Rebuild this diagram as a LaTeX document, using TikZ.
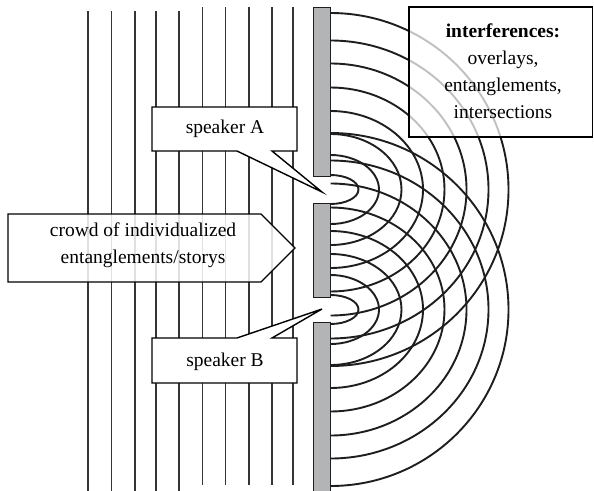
\documentclass[tikz,border=0pt]{standalone}
\usepackage{fontspec}
\setmainfont{Liberation Serif}
\definecolor{wallgray}{RGB}{178,180,181}
\definecolor{ink}{RGB}{30,30,32}
\begin{document}
\begin{tikzpicture}[x=1pt,y=-1pt,
  wave/.style={line width=1.9pt, draw=ink},
  vline/.style={line width=1.5pt, draw=ink!90},
  wall/.style={fill=wallgray, draw=ink, line width=1pt},
  callout/.style={draw=black, line width=1.4pt, fill=white, line join=miter},
  lbl/.style={font=\fontsize{19.5}{26.7}\selectfont, align=center, inner sep=0pt}]
\useasboundingbox (0,0) rectangle (594,490);
\fill[white] (0,0) rectangle (594,490);
% incoming plane waves
\foreach \x in {88,111.5,135,156,179} \draw[vline] (\x,11) -- (\x,491);
\foreach \x in {202.7,225.7,249,272,293} \draw[vline] (\x,7) -- (\x,485);
% slit centres
\coordinate (A) at (330.5,189.5);
\coordinate (B) at (330.5,309.5);
% circular waves
\begin{scope}
\clip (330.5,0) rectangle (594,490);
\foreach \a/\b in {28/14.5,48.5/34.5,71/55.5,92.5/78.5,114/102,136/126,158/149,178/176.5} {
  \draw[wave] (A) ellipse [x radius=\a pt, y radius=\b pt];
  \draw[wave] (B) ellipse [x radius=\a pt, y radius=\b pt];
}
\end{scope}
% barrier
\draw[wall] (313.5,7.5) rectangle (330.5,176);
\draw[wall] (313.5,203) rectangle (330.5,297);
\draw[wall] (313.5,322) rectangle (330.5,495);
% interference box
\draw[callout, fill opacity=0.72] (409,7) rectangle (592.5,137);
\node[lbl, anchor=base] (intf) at (503,118) {\textbf{interferences:}\\overlays,\\entanglements,\\intersections};
% speaker A
\draw[callout] (152,107) -- (297,107) -- (297,151) -- (272,151) -- (322,192) -- (237,151) -- (152,151) -- cycle;
\node[lbl, anchor=base] (spA) at (225,133) {speaker A};
% crowd
\draw[callout, fill opacity=0.85] (8,214) -- (261,214) -- (295,248) -- (261,282) -- (8,282) -- cycle;
\node[lbl, anchor=base] (crowd) at (143,263) {crowd of individualized\\entanglements/storys};
% speaker B
\draw[callout] (152,338) -- (237,338) -- (322,309) -- (272,338) -- (297,338) -- (297,383) -- (152,383) -- cycle;
\node[lbl, anchor=base] (spB) at (225,366) {speaker B};
\end{tikzpicture}
\end{document}
